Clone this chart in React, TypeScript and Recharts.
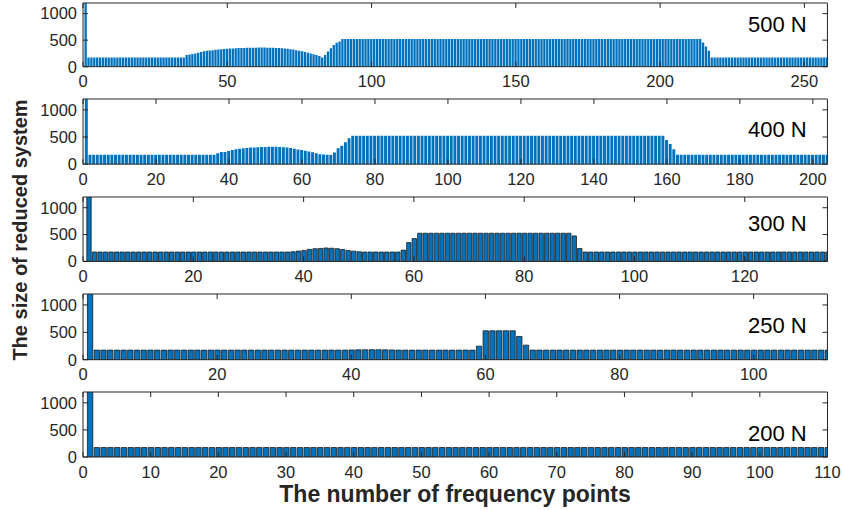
import { BarChart, Bar, XAxis, YAxis } from "recharts";

// each run is [value, how many consecutive frequency points]
type Run = [number, number];

const runs500: Run[] = [
  [1500, 1], [175, 34],
  [222, 1], [232, 1], [240, 1], [250, 1], [265, 1], [275, 1], [290, 1], [300, 1],
  [306, 1], [312, 1], [318, 1], [324, 1], [330, 1], [334, 1], [338, 1], [342, 1],
  [345, 1], [348, 1], [350, 1], [352, 1], [354, 1], [356, 1], [357, 1], [358, 1],
  [359, 1], [360, 3], [359, 1], [358, 1], [356, 1], [354, 1], [351, 1], [347, 1],
  [342, 1], [336, 1], [330, 1], [322, 1], [312, 1], [302, 1], [290, 1], [278, 1],
  [265, 1], [250, 1], [235, 1], [218, 1], [200, 1], [172, 1],
  [222, 1], [284, 1], [348, 1], [411, 1], [450, 1], [473, 1],
  [520, 125],
  [455, 1], [380, 1], [300, 1],
  [175, 42],
];

const runs400: Run[] = [
  [1500, 1], [175, 35],
  [200, 1], [225, 2], [243, 1], [260, 1], [276, 1], [285, 1], [295, 1], [300, 1],
  [305, 1], [308, 1], [312, 1], [316, 1], [318, 1], [320, 3], [318, 1], [312, 1],
  [305, 1], [297, 1], [285, 1], [272, 1], [262, 1], [248, 1], [232, 1], [218, 1],
  [200, 1], [185, 1], [178, 1], [175, 2],
  [213, 1], [295, 1], [338, 1], [403, 1], [479, 1],
  [523, 86],
  [447, 1], [370, 1], [276, 1],
  [175, 42],
];

const runs300: Run[] = [
  [1500, 1], [175, 36],
  [180, 1], [192, 1], [205, 1], [224, 1], [237, 1], [242, 1], [250, 1], [245, 1],
  [237, 1], [220, 1], [205, 1], [190, 1], [180, 1],
  [175, 7],
  [210, 1], [350, 1], [426, 1],
  [525, 28],
  [475, 1], [240, 1],
  [175, 45],
];

const runs250: Run[] = [
  [1500, 1], [175, 38],
  [178, 1], [180, 1], [182, 1], [183, 1], [182, 1], [180, 1], [178, 1],
  [175, 12],
  [247, 1], [528, 5], [424, 1], [266, 1],
  [175, 45],
];

const runs200: Run[] = [[1500, 1], [175, 109]];

const ticks500 = [0, 50, 100, 150, 200, 250];
const ticks400 = [0, 20, 40, 60, 80, 100, 120, 140, 160, 180, 200];
const ticks300 = [0, 20, 40, 60, 80, 100, 120];
const ticks250 = [0, 20, 40, 60, 80, 100];
const ticks200 = [0, 10, 20, 30, 40, 50, 60, 70, 80, 90, 100, 110];
const yTicks = [0, 500, 1000];

const expand = (runs: Run[]) => {
  const out: { point: number; size: number }[] = [];
  let i = 1;
  runs.forEach(([v, n]) => {
    for (let k = 0; k < n; k++) out.push({ point: i++, size: v });
  });
  return out;
};

const W = 843;
const PLOT_LEFT = 83;
const PLOT_RIGHT = 827.5;
const TOP_PAD = 5;
const X_AXIS_H = 30;
const INK = "#262626";
const tickStyle = { fill: INK, fontSize: 16.5 };

type PanelProps = {
  runs: Run[];
  xMax: number;
  ticks: number[];
  top: number;
  bottom: number;
  edged?: boolean;
};

const Panel = ({ runs, xMax, ticks, top, bottom, edged }: PanelProps) => {
  const data = expand(runs);
  const barSize = ((PLOT_RIGHT - PLOT_LEFT) / xMax) * 0.8;
  return (
    <div style={{ position: "absolute", left: 0, top: top - TOP_PAD }}>
      <BarChart
        width={W}
        height={TOP_PAD + (bottom - top) + X_AXIS_H}
        data={data}
        margin={{ top: 0, right: 0, bottom: 0, left: 0 }}
        barSize={barSize}
      >
        <XAxis
          dataKey="point"
          type="number"
          domain={[0, xMax]}
          ticks={ticks}
          interval={0}
          allowDataOverflow
          height={X_AXIS_H}
          tickSize={-5}
          tickMargin={14}
          stroke={INK}
          tick={tickStyle}
        />
        <XAxis
          xAxisId="top"
          orientation="top"
          dataKey="point"
          type="number"
          domain={[0, xMax]}
          ticks={ticks}
          interval={0}
          allowDataOverflow
          height={TOP_PAD}
          tickSize={-5}
          tickFormatter={() => ""}
          stroke={INK}
        />
        <YAxis
          type="number"
          domain={[0, 1200]}
          ticks={yTicks}
          interval={0}
          allowDataOverflow
          width={PLOT_LEFT}
          tickSize={-5}
          tickMargin={11}
          stroke={INK}
          tick={tickStyle}
        />
        <YAxis
          yAxisId="right"
          orientation="right"
          type="number"
          domain={[0, 1200]}
          ticks={yTicks}
          interval={0}
          allowDataOverflow
          width={W - PLOT_RIGHT}
          tickSize={-5}
          tickFormatter={() => ""}
          stroke={INK}
        />
        <Bar
          dataKey="size"
          fill="#0072BD"
          stroke={edged ? "#1e1e1e" : "none"}
          strokeWidth={edged ? 0.8 : 0}
          isAnimationActive={false}
        />
      </BarChart>
    </div>
  );
};

const loads = [
  { text: "500 N", y: 24 },
  { text: "400 N", y: 129.5 },
  { text: "300 N", y: 223.5 },
  { text: "250 N", y: 325 },
  { text: "200 N", y: 433.5 },
];

export default function App() {
  return (
    <div
      style={{
        position: "absolute",
        left: 0,
        top: 0,
        width: W,
        height: 510,
        background: "#fff",
        fontFamily: "'Liberation Sans', Arial, sans-serif",
      }}
    >
      <Panel runs={runs500} xMax={258} ticks={ticks500} top={3} bottom={66.7} />
      <Panel runs={runs400} xMax={204} ticks={ticks400} top={99.3} bottom={164.5} />
      <Panel runs={runs300} xMax={135} ticks={ticks300} top={197.3} bottom={261.7} edged />
      <Panel runs={runs250} xMax={111} ticks={ticks250} top={294.3} bottom={360} edged />
      <Panel runs={runs200} xMax={110} ticks={ticks200} top={392.3} bottom={457.3} edged />
      <svg
        width={W}
        height={510}
        style={{ position: "absolute", left: 0, top: 0, pointerEvents: "none" }}
      >
        {loads.map((l) => (
          <text key={l.text} x={806.7} y={l.y} textAnchor="end" dominantBaseline="central" fontSize={22} fill="#000">
            {l.text}
          </text>
        ))}
        <text
          x={455}
          y={494}
          textAnchor="middle"
          dominantBaseline="central"
          fontSize={23}
          fontWeight="bold"
          fill={INK}
        >
          The number of frequency points
        </text>
        <text
          transform="translate(20,230) rotate(-90)"
          textAnchor="middle"
          dominantBaseline="central"
          fontSize={20}
          fontWeight="bold"
          fill={INK}
        >
          The size of reduced system
        </text>
      </svg>
    </div>
  );
}
